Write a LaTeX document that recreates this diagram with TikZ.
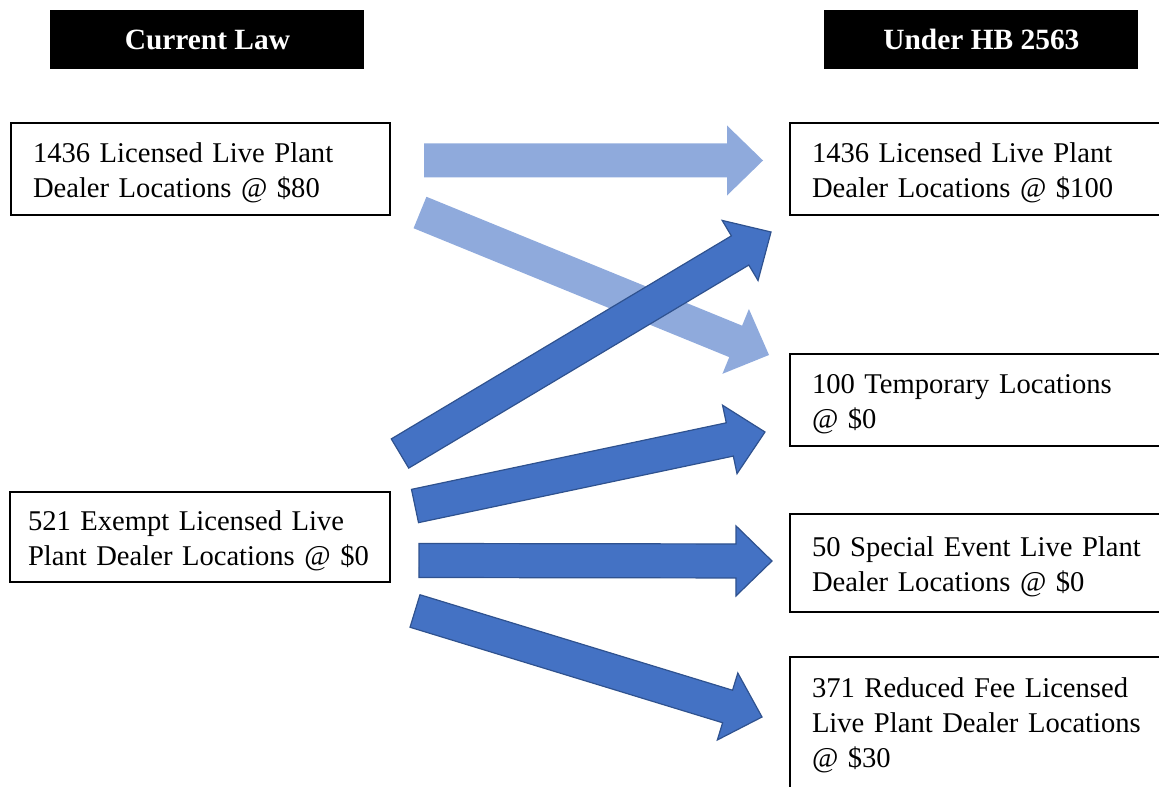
\documentclass[tikz,border=0pt]{standalone}
\usepackage{fontspec}
\setmainfont{Liberation Serif}
\usetikzlibrary{calc}

\definecolor{lightflow}{HTML}{8FAADC}
\definecolor{darkflow}{HTML}{4472C4}
\definecolor{darkedge}{HTML}{2F528F}

% block arrow from tail #2 to tip #3
\newcommand{\blockarrow}[3][]{%
  \coordinate (ab) at ($(#3)!18pt!(#2)$);
  \path[#1] ($(#2)!8.5pt!90:(#3)$) -- ($(ab)!8.5pt!90:(#3)$) -- ($(ab)!17.5pt!90:(#3)$) -- (#3)
    -- ($(ab)!17.5pt!-90:(#3)$) -- ($(ab)!8.5pt!-90:(#3)$) -- ($(#2)!8.5pt!-90:(#3)$) -- cycle;
}

\begin{document}
\begin{tikzpicture}[x=0.5pt,y=-0.5pt]
 	\tikzstyle{every node}+=[font=\fontsize{14.3}{17.4}\selectfont]
 	\tikzstyle{lawhead}=[fill=black,text=white,font=\fontsize{14.7}{17.6}\selectfont\bfseries,minimum width=157pt,minimum height=29.5pt,anchor=north west,inner sep=0pt]
 	\tikzstyle{locbox}=[draw,line width=1pt,anchor=north west,align=left,inner xsep=11pt,inner ysep=0pt,minimum height=46pt,execute at begin node={\rule{0pt}{13.5pt}}]
 	\tikzstyle{lightarrow}=[fill=lightflow]
 	\tikzstyle{darkarrow}=[fill=darkflow,draw=darkedge,line width=0.6pt,line join=miter]
 	\useasboundingbox (0,0) rectangle (1159,786);
 	\clip (0,0) rectangle (1159,786);
 	% headers
 	\node[lawhead] (cur) at (50,10) {Current Law};
 	\node[lawhead] (under) at (824,10) {Under HB 2563};
 	% current law
 	\node[locbox,text width=167.5pt] (lic) at (10,122) {1436 Licensed Live Plant\\Dealer Locations @ \$80};
 	\node[locbox,text width=172pt,inner xsep=9pt,minimum height=45pt] (exempt) at (9,491) {521 Exempt Licensed Live\\Plant Dealer Locations @ \$0};
 	% under HB 2563
 	\node[locbox,text width=171pt] (newlic) at (789,122) {1436 Licensed Live Plant\\Dealer Locations @ \$100};
 	\node[locbox,text width=171pt] (temp) at (789,353) {100 Temporary Locations\\@ \$0};
 	\node[locbox,text width=171pt,minimum height=49pt] (special) at (789,513) {50 Special Event Live Plant\\Dealer Locations @ \$0};
 	\node[locbox,text width=171pt,minimum height=73pt] (reduced) at (789,656) {371 Reduced Fee Licensed\\Live Plant Dealer Locations\\@ \$30\rule[-11pt]{0pt}{11pt}};
 	% arrow ends
 	\coordinate (a1s) at (424,160.5);
 	\coordinate (a1e) at (763,160.5);
 	\coordinate (a2s) at (420,212.5);
 	\coordinate (a2e) at (769,355);
 	\coordinate (a3s) at (400,453.5);
 	\coordinate (a3e) at (771,232);
 	\coordinate (a4s) at (415,506);
 	\coordinate (a4e) at (765,432);
 	\coordinate (a5s) at (419,560.5);
 	\coordinate (a5e) at (772,561);
 	\coordinate (a6s) at (415,611);
 	\coordinate (a6e) at (762,717);
 	% arrows
 	\blockarrow[lightarrow]{a1s}{a1e}
 	\blockarrow[lightarrow]{a2s}{a2e}
 	\blockarrow[darkarrow]{a3s}{a3e}
 	\blockarrow[darkarrow]{a4s}{a4e}
 	\blockarrow[darkarrow]{a5s}{a5e}
 	\blockarrow[darkarrow]{a6s}{a6e}
\end{tikzpicture}
\end{document}
